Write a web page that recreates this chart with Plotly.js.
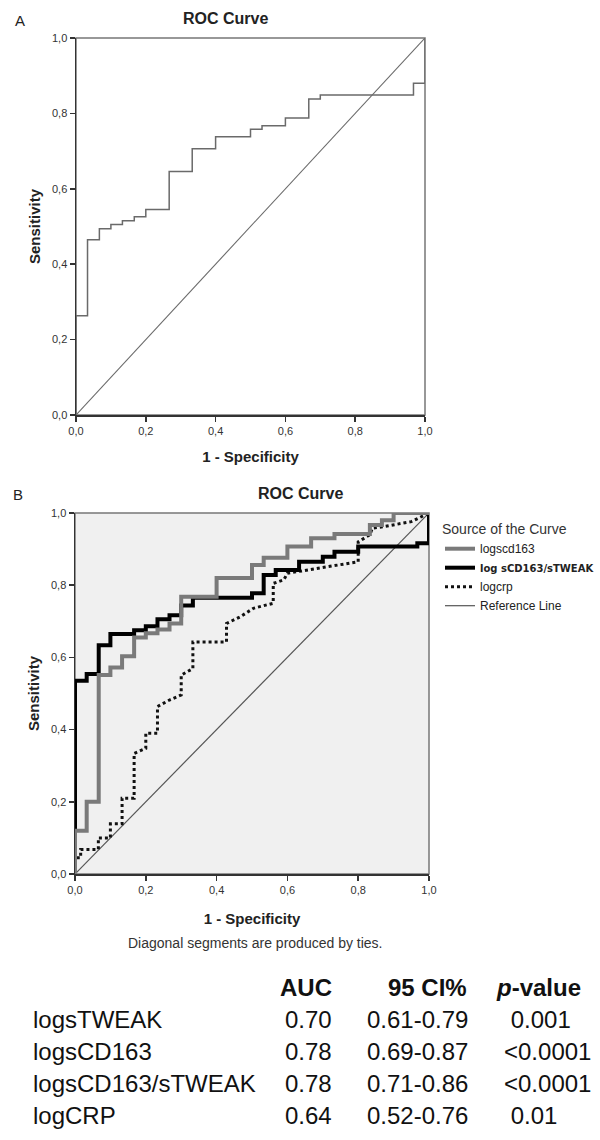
<!DOCTYPE html>
<html>
<head>
<meta charset="utf-8">
<script src="https://cdn.plot.ly/plotly-3.0.1.min.js"></script>
<style>html,body{margin:0;padding:0;background:#fff;}#chart{width:600px;height:1140px;}</style>
</head>
<body>
<div id="chart"></div>
<script>
// ---------- data ----------
// Panel A: single ROC curve (step vertices)
const fprA = [0,0,0.033,0.033,0.067,0.067,0.1,0.1,0.133,0.133,0.167,0.167,0.2,0.2,0.267,0.267,0.333,0.333,0.4,0.4,0.5,0.5,0.533,0.533,0.6,0.6,0.667,0.667,0.7,0.7,0.967,0.967,1,1];
const tprA = [0,0.263,0.263,0.465,0.465,0.494,0.494,0.505,0.505,0.515,0.515,0.526,0.526,0.545,0.545,0.646,0.646,0.706,0.706,0.738,0.738,0.758,0.758,0.767,0.767,0.788,0.788,0.838,0.838,0.849,0.849,0.88,0.88,1];

// Panel B curves
const fprCD163 = [0,0,0.033,0.033,0.067,0.067,0.1,0.1,0.133,0.133,0.167,0.167,0.2,0.2,0.233,0.233,0.267,0.267,0.3,0.3,0.4,0.4,0.5,0.5,0.533,0.533,0.6,0.6,0.667,0.667,0.733,0.733,0.833,0.833,0.867,0.867,0.9,0.9,1];
const tprCD163 = [0,0.12,0.12,0.2,0.2,0.551,0.551,0.572,0.572,0.603,0.603,0.655,0.655,0.667,0.667,0.677,0.677,0.694,0.694,0.768,0.768,0.82,0.82,0.856,0.856,0.876,0.876,0.907,0.907,0.93,0.93,0.942,0.942,0.967,0.967,0.98,0.98,1,1];

const fprRatio = [0,0,0.033,0.033,0.067,0.067,0.1,0.1,0.167,0.167,0.2,0.2,0.233,0.233,0.267,0.267,0.3,0.3,0.333,0.333,0.5,0.5,0.533,0.533,0.567,0.567,0.633,0.633,0.7,0.7,0.733,0.733,0.8,0.8,0.967,0.967,1,1];
const tprRatio = [0,0.535,0.535,0.554,0.554,0.634,0.634,0.665,0.665,0.675,0.675,0.686,0.686,0.706,0.706,0.717,0.717,0.744,0.744,0.765,0.765,0.778,0.778,0.828,0.828,0.842,0.842,0.865,0.865,0.879,0.879,0.893,0.893,0.907,0.907,0.916,0.916,1];

const fprCRP = [0,0,0.016,0.016,0.066,0.066,0.1,0.1,0.133,0.133,0.167,0.167,0.2,0.2,0.233,0.233,0.267,0.3,0.3,0.333,0.333,0.428,0.428,0.466,0.504,0.56,0.56,0.59,0.6,0.8,0.8,0.833,0.84,0.87,0.95,1];
const tprCRP = [0,0.045,0.045,0.068,0.068,0.1,0.1,0.139,0.139,0.21,0.21,0.334,0.348,0.39,0.39,0.464,0.482,0.496,0.551,0.569,0.643,0.643,0.694,0.712,0.736,0.75,0.805,0.815,0.833,0.865,0.92,0.94,0.958,0.962,0.976,1];

const refLine = [0, 1];

const seriesNames = ['logscd163', 'log sCD163/sTWEAK', 'logcrp', 'Reference Line'];

const tickVals = [0, 0.2, 0.4, 0.6, 0.8, 1.0];
const tickText = ['0,0', '0,2', '0,4', '0,6', '0,8', '1,0'];

// Table
const tableHeader = ['AUC', '95 CI%', '<i>p</i>-value'];
const markers = ['logsTWEAK', 'logsCD163', 'logsCD163/sTWEAK', 'logCRP'];
const aucVals = ['0.70', '0.78', '0.78', '0.64'];
const ciVals = ['0.61-0.79', '0.69-0.87', '0.71-0.86', '0.52-0.76'];
const pVals = ['0.001', '<0.0001', '<0.0001', '0.01'];

// ---------- layout helpers ----------
const W = 600, H = 1140;
const FONT = 'Liberation Sans, Arial, sans-serif';
const px = x => x / W;
const py = y => 1 - y / H;

const traces = [
  {x: fprA, y: tprA, xaxis: 'x', yaxis: 'y', mode: 'lines', showlegend: false,
   line: {color: '#6a6a6a', width: 1.5}, hoverinfo: 'skip'},
  {x: refLine, y: refLine, xaxis: 'x', yaxis: 'y', mode: 'lines', showlegend: false,
   line: {color: '#6a6a6a', width: 1.1}, hoverinfo: 'skip'},

  {x: refLine, y: refLine, xaxis: 'x2', yaxis: 'y2', mode: 'lines', name: seriesNames[3], legendrank: 4,
   line: {color: '#555', width: 1.2}},
  {x: fprCRP, y: tprCRP, xaxis: 'x2', yaxis: 'y2', mode: 'lines', name: seriesNames[2], legendrank: 3,
   line: {color: '#111', width: 3, dash: 'dot'}},
  {x: fprRatio, y: tprRatio, xaxis: 'x2', yaxis: 'y2', mode: 'lines',
   name: '<span style="font-family:DejaVu Sans;font-weight:bold;font-size:10px">' + seriesNames[1] + '</span>', legendrank: 2,
   line: {color: '#000', width: 4}},
  {x: fprCD163, y: tprCD163, xaxis: 'x2', yaxis: 'y2', mode: 'lines', name: seriesNames[0], legendrank: 1,
   line: {color: '#7a7a7a', width: 4}}
];

function axisCommon(title, standoff) {
  return {
    range: [0, 1], tickvals: tickVals, ticktext: tickText,
    ticks: 'outside', ticklen: 5, tickwidth: 1.5, tickcolor: '#333',
    showline: true, linecolor: '#333', linewidth: 1.5,
    showgrid: false, zeroline: false, fixedrange: true,
    tickfont: {family: FONT, size: 11, color: '#333'},
    title: {text: '<b>' + title + '</b>', font: {family: FONT, size: 15, color: '#222'}, standoff: standoff}
  };
}

const layout = {
  width: W, height: H,
  margin: {l: 0, r: 0, t: 0, b: 0},
  paper_bgcolor: '#fff', plot_bgcolor: 'rgba(0,0,0,0)',
  font: {family: FONT, color: '#222'},
  showlegend: true,
  legend: {
    x: px(440), y: py(516), xanchor: 'left', yanchor: 'top',
    bgcolor: 'rgba(0,0,0,0)', borderwidth: 0,
    font: {family: FONT, size: 12, color: '#222'},
    title: {text: 'Source of the Curve', font: {family: FONT, size: 14, color: '#333'}},
    tracegroupgap: 0, itemwidth: 30
  },
  xaxis: Object.assign(axisCommon('1 - Specificity', 16), {domain: [px(76), px(425)], anchor: 'y'}),
  yaxis: Object.assign(axisCommon('Sensitivity', 8), {domain: [py(415), py(38)], anchor: 'x'}),
  xaxis2: Object.assign(axisCommon('1 - Specificity', 19), {domain: [px(75), px(429)], anchor: 'y2'}),
  yaxis2: Object.assign(axisCommon('Sensitivity', 8), {domain: [py(874), py(513)], anchor: 'x2'}),
  shapes: [
    {type: 'rect', xref: 'x domain', yref: 'y domain', x0: 0, x1: 1, y0: 0, y1: 1,
     line: {color: '#777', width: 1.5}, fillcolor: 'rgba(0,0,0,0)', layer: 'below'},
    {type: 'rect', xref: 'x2 domain', yref: 'y2 domain', x0: 0, x1: 1, y0: 0, y1: 1,
     line: {color: '#777', width: 1.5}, fillcolor: '#f0f0f0', layer: 'below'}
  ],
  annotations: []
};

function ann(text, x, y, opts) {
  layout.annotations.push(Object.assign({
    text: text, xref: 'paper', yref: 'paper', x: px(x), y: py(y),
    xanchor: 'center', yanchor: 'middle', showarrow: false,
    font: {family: FONT, size: 14, color: '#222'}
  }, opts || {}));
}

ann('A', 20, 20, {font: {family: FONT, size: 15, color: '#222'}});
ann('B', 18, 494, {font: {family: FONT, size: 15, color: '#222'}});
ann('<b>ROC Curve</b>', 225, 18, {font: {family: FONT, size: 16, color: '#222'}});
ann('<b>ROC Curve</b>', 300, 493, {font: {family: FONT, size: 16, color: '#222'}});
ann('Diagonal segments are produced by ties.', 255, 943, {font: {family: FONT, size: 14, color: '#333'}});

// table
const tFont = {family: FONT, size: 24, color: '#111'};
const headerY = 987, rowY0 = 1019, rowStep = 32;
ann('<b>' + tableHeader[0] + '</b>', 334, headerY, {xanchor: 'right', font: tFont});
ann('<b>' + tableHeader[1] + '</b>', 469, headerY, {xanchor: 'right', font: tFont});
ann('<b>' + tableHeader[2] + '</b>', 494, headerY, {xanchor: 'left', font: tFont});
markers.forEach((m, i) => {
  const y = rowY0 + i * rowStep;
  ann(m, 31, y, {xanchor: 'left', font: tFont});
  ann(aucVals[i], 334, y, {xanchor: 'right', font: tFont});
  ann(ciVals[i], 470, y, {xanchor: 'right', font: tFont});
  const pv = pVals[i].charAt(0) === '<' ? pVals[i].replace('<', '&lt;') : '\u00a0' + pVals[i];
  ann(pv, 502, y, {xanchor: 'left', font: tFont});
});

Plotly.newPlot('chart', traces, layout, {displayModeBar: false, staticPlot: true});
</script>
</body>
</html>
